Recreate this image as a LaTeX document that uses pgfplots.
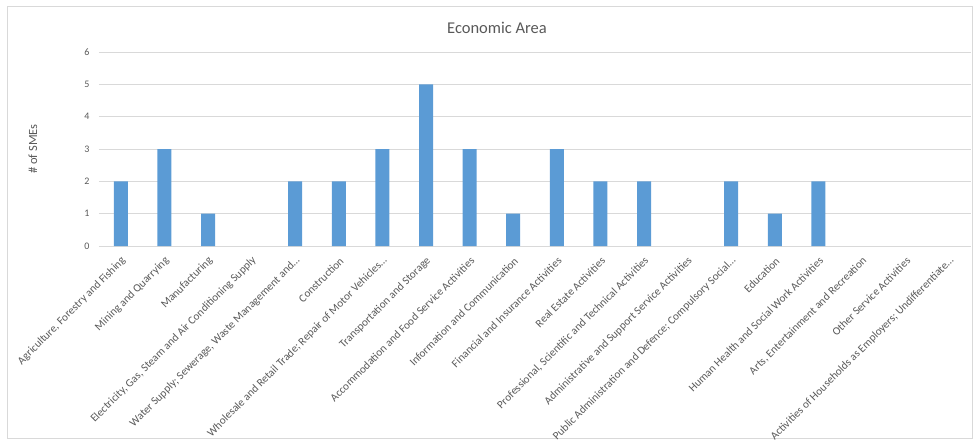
\documentclass[border=0pt]{standalone}
\usepackage{pgfplots}
\pgfplotsset{compat=1.18}
\usepackage{fontspec}
\setmainfont{Carlito}
\definecolor{barblue}{HTML}{5B9BD5}
\definecolor{txtgray}{HTML}{595959}
\definecolor{gridgray}{HTML}{D9D9D9}
\begin{document}
\begin{tikzpicture}[x=1pt,y=1pt]
\useasboundingbox (-99,-195) rectangle (874,246);
\draw[gridgray] (-92,-192) rectangle (873.5,240);
\node[text=txtgray,font=\fontsize{16.5}{18}\selectfont] at (398,218) {Economic Area};
\node[text=txtgray,rotate=90,font=\fontsize{12.5}{14}\selectfont] at (-66,97) {\# of SMEs};
\begin{axis}[
  at={(0,0)}, anchor=south west,
  scale only axis, width=872pt, height=194pt,
  xmin=-0.5, xmax=19.5, ymin=0, ymax=6,
  ybar, bar width=14pt,
  axis x line*=bottom, axis y line*=left,
  x axis line style={gridgray,-},
  y axis line style={draw=none},
  major tick length=0pt,
  ytick={0,...,6},
  ymajorgrids, grid style={gridgray},
  xtick={0,...,19},
  xticklabels={{Agriculture, Forestry and Fishing},{Mining and Quarrying},{Manufacturing},{Electricity, Gas, Steam and Air Conditioning Supply},{Water Supply; Sewerage, Waste Management and…},{Construction},{Wholesale and Retail Trade; Repair of Motor Vehicles…},{Transportation and Storage},{Accommodation and Food Service Activities},{Information and Communication},{Financial and Insurance Activities},{Real Estate Activities},{Professional, Scientific and Technical Activities},{Administrative and Support Service Activities},{Public Administration and Defence; Compulsory Social…},{Education},{Human Health and Social Work Activities},{Arts, Entertainment and Recreation},{Other Service Activities},{Activities of Households as Employers; Undifferentiate…}},
  xticklabel style={xshift=3pt,yshift=-13pt,rotate=45,anchor=east,inner sep=0pt,text=txtgray,font=\fontsize{11.2}{13}\selectfont},
  yticklabel style={text=txtgray,font=\fontsize{10}{12}\selectfont,xshift=-6pt},
  /pgf/number format/assume math mode=true,
  clip=false,
]
\addplot[fill=barblue,draw=none] coordinates {
(0,2) (1,3) (2,1) (4,2) (5,2) (6,3) (7,5) (8,3) (9,1) (10,3) (11,2) (12,2) (14,2) (15,1) (16,2)
};
\end{axis}
\end{tikzpicture}
\end{document}
